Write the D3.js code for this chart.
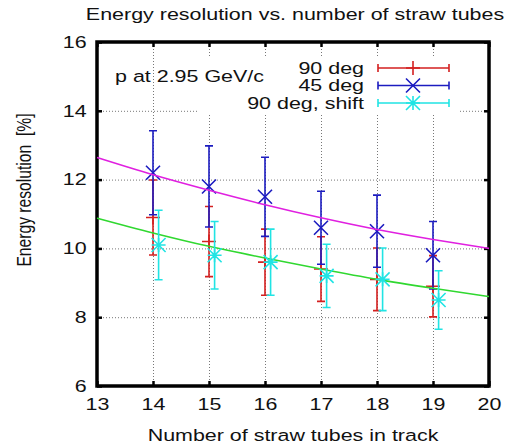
<!DOCTYPE html>
<html lang="en">
<head>
    <meta charset="UTF-8">
    <title>Energy resolution</title>
    <style>
        body { margin: 0; background: #fff; }
        text { font-family: "Liberation Sans", Arial, sans-serif; fill: #111; white-space: pre; }
    </style>
</head>
<body>
<script src="https://cdn.jsdelivr.net/npm/d3@7/dist/d3.min.js"></script>
<script>
    var width = 513;
    var height = 445;

    // data
    var tubes = [14, 15, 16, 17, 18, 19];
    var tubesShift = [14.1, 15.1, 16.1, 17.1, 18.1, 19.1];
    var res90 = [10.9, 10.2, 9.6, 9.4, 9.1, 8.9];
    var err90 = [1.09, 1.02, 0.96, 0.94, 0.91, 0.89];
    var res45 = [12.2, 11.8, 11.5, 10.6, 10.5, 9.8];
    var err45 = [1.22, 1.18, 1.15, 1.06, 1.05, 0.98];
    var res90s = [10.1, 9.8, 9.6, 9.2, 9.1, 8.5];
    var err90s = [1.01, 0.98, 0.96, 0.92, 0.91, 0.85];
    // fitted curves
    var fitX = [13, 14, 15, 16, 17, 18, 19, 20];
    var fit45 = [12.64, 12.14, 11.69, 11.27, 10.89, 10.55, 10.26, 10.0];
    var fit90 = [10.88, 10.45, 10.06, 9.72, 9.40, 9.10, 8.84, 8.60];
    var xTicks = [13, 14, 15, 16, 17, 18, 19, 20];
    var yTicks = [6, 8, 10, 12, 14, 16];

    var pLeft = 97, pRight = 489, pTop = 42, pBottom = 386;
    var fs = '16.5px';
    var sx = 1.3; // text in the reference is drawn wide

    var svg = d3.select('body')
            .append('svg')
            .attr('width', width)
            .attr('height', height);

    var x = d3.scaleLinear().domain([13, 20]).range([pLeft, pRight]);
    var y = d3.scaleLinear().domain([6, 16]).range([pBottom, pTop]);

    function label(tx, ty, str, anchor, kx, ky, rot, size) {
        return svg.append('text')
                .attr('transform', 'translate(' + tx + ',' + ty + ')' + (rot ? ' rotate(' + rot + ')' : '') +
                        ' scale(' + kx + ',' + ky + ')')
                .attr('text-anchor', anchor)
                .style('font-size', size || fs)
                .text(str);
    }

    // grid
    svg.append('g')
            .attr('transform', 'translate(0,' + pBottom + ')')
            .call(d3.axisBottom(x).tickValues(xTicks.slice(1, -1)).tickSize(pTop - pBottom).tickFormat(''))
            .call(function (g) {
                g.select('.domain').remove();
                g.selectAll('line').attr('stroke', '#777').attr('stroke-dasharray', '1,2');
            });
    svg.append('g')
            .attr('transform', 'translate(' + pLeft + ',0)')
            .call(d3.axisLeft(y).tickValues(yTicks.slice(1, -1)).tickSize(pLeft - pRight).tickFormat(''))
            .call(function (g) {
                g.select('.domain').remove();
                g.selectAll('line').attr('stroke', '#777').attr('stroke-dasharray', '1,2');
            });

    // opaque key area
    svg.append('rect')
            .attr('x', 198).attr('y', 58)
            .attr('width', 262).attr('height', 55)
            .attr('fill', '#fff');

    // axes, ticks inward on all sides
    function ticks(g) {
        g.select('.domain').remove();
        g.selectAll('line').attr('stroke', '#000').attr('stroke-width', 2.5);
        g.selectAll('text').style('font-size', fs).attr('fill', '#111');
    }
    svg.append('g')
            .attr('transform', 'translate(0,' + pBottom + ')')
            .call(d3.axisBottom(x).tickValues(xTicks).tickSize(-5).tickPadding(12).tickFormat(d3.format('d')))
            .call(ticks)
            .selectAll('text').attr('transform', 'scale(' + sx + ',1)');
    svg.append('g')
            .attr('transform', 'translate(0,' + pTop + ')')
            .call(d3.axisTop(x).tickValues(xTicks).tickSize(-5).tickFormat(''))
            .call(ticks);
    svg.append('g')
            .attr('transform', 'translate(' + pLeft + ',0)')
            .call(d3.axisLeft(y).tickValues(yTicks).tickSize(-5).tickPadding(8).tickFormat(d3.format('d')))
            .call(ticks)
            .selectAll('text').attr('transform', 'scale(' + sx + ',1)');
    svg.append('g')
            .attr('transform', 'translate(' + pRight + ',0)')
            .call(d3.axisRight(y).tickValues(yTicks).tickSize(-5).tickFormat(''))
            .call(ticks);

    svg.append('rect')
            .attr('x', pLeft).attr('y', pTop)
            .attr('width', pRight - pLeft).attr('height', pBottom - pTop)
            .attr('fill', 'none').attr('stroke', '#000').attr('stroke-width', 3.5);

    var ms = 7, cap = 4;
    function marker(g, kind, cx, cy, color) {
        var p = '';
        if (kind === 'plus' || kind === 'star') {
            p += 'M' + (cx - ms) + ',' + cy + 'H' + (cx + ms) + 'M' + cx + ',' + (cy - ms) + 'V' + (cy + ms);
        }
        if (kind === 'cross' || kind === 'star') {
            p += 'M' + (cx - ms) + ',' + (cy - ms) + 'L' + (cx + ms) + ',' + (cy + ms) +
                 'M' + (cx - ms) + ',' + (cy + ms) + 'L' + (cx + ms) + ',' + (cy - ms);
        }
        g.append('path').attr('d', p).attr('stroke', color).attr('stroke-width', 1.6).attr('fill', 'none');
    }

    function series(xs, vals, errs, color, kind) {
        var g = svg.append('g');
        xs.forEach(function (xv, i) {
            var cx = x(xv), lo = y(vals[i] - errs[i]), hi = y(vals[i] + errs[i]);
            g.append('path')
                    .attr('d', 'M' + cx + ',' + lo + 'V' + hi +
                            'M' + (cx - cap) + ',' + lo + 'H' + (cx + cap) +
                            'M' + (cx - cap) + ',' + hi + 'H' + (cx + cap))
                    .attr('stroke', color).attr('stroke-width', 1.6).attr('fill', 'none');
            marker(g, kind, cx, y(vals[i]), color);
        });
    }

    var line = d3.line()
            .x(function (d) { return x(d[0]); })
            .y(function (d) { return y(d[1]); })
            .curve(d3.curveMonotoneX);

    series(tubes, res90, err90, '#d42020', 'plus');
    series(tubes, res45, err45, '#1c1cc0', 'cross');
    svg.append('path')
            .attr('d', line(d3.zip(fitX, fit45)))
            .attr('stroke', '#e020e0').attr('stroke-width', 1.6).attr('fill', 'none');
    svg.append('path')
            .attr('d', line(d3.zip(fitX, fit90)))
            .attr('stroke', '#30d830').attr('stroke-width', 1.6).attr('fill', 'none');
    series(tubesShift, res90s, err90s, '#20e4e4', 'star');

    // key
    var keyNames = ['90 deg', '45 deg', '90 deg, shift'];
    var keyColors = ['#d42020', '#1c1cc0', '#20e4e4'];
    var keyKinds = ['plus', 'cross', 'star'];
    keyNames.forEach(function (name, i) {
        var ky = 68 + i * 17.5;
        label(364, ky + 5.5, name, 'end', sx, 1);
        var g = svg.append('g');
        g.append('path')
                .attr('d', 'M378,' + ky + 'H449M378,' + (ky - cap) + 'V' + (ky + cap) + 'M449,' + (ky - cap) + 'V' + (ky + cap))
                .attr('stroke', keyColors[i]).attr('stroke-width', 1.6);
        marker(g, keyKinds[i], 413, ky, keyColors[i]);
    });

    label(115, 82, 'p at 2.95 GeV/c', 'start', sx, 1);
    label(295, 20, 'Energy resolution vs. number of straw tubes', 'middle', sx, 1);
    label(293, 441, 'Number of straw tubes in track', 'middle', sx, 1);
    label(31, 190, 'Energy resolution  [%]', 'middle', 0.87, 1.12, -90, '18px');
</script>
</body>
</html>
